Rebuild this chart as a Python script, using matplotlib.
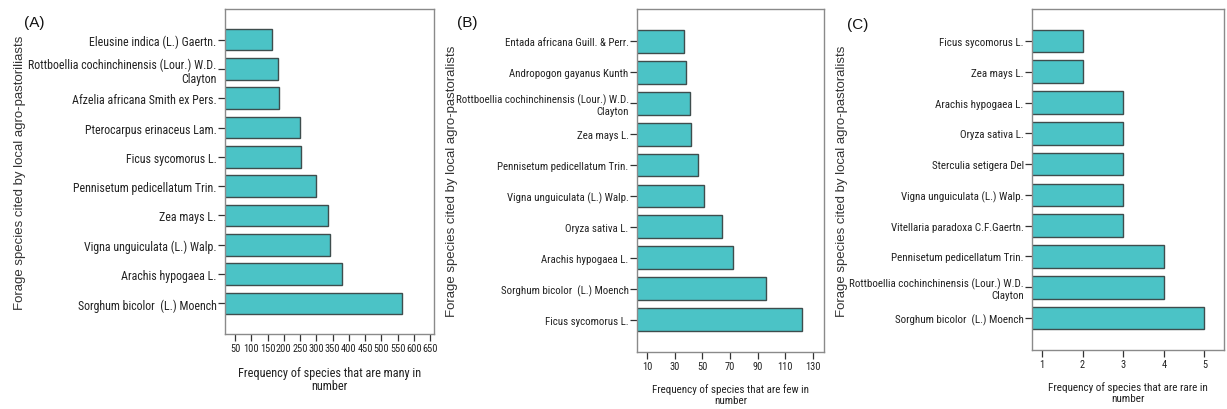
import matplotlib
matplotlib.use("Agg")
import matplotlib.pyplot as plt

# Panel A: species that are many in number
species_a = ["Eleusine indica (L.) Gaertn.",
             "Rottboellia cochinchinensis (Lour.) W.D.\nClayton",
             "Afzelia africana Smith ex Pers.",
             "Pterocarpus erinaceus Lam.",
             "Ficus sycomorus L.",
             "Pennisetum pedicellatum Trin.",
             "Zea mays L.",
             "Vigna unguiculata (L.) Walp.",
             "Arachis hypogaea L.",
             "Sorghum bicolor  (L.) Moench"]
freq_a = [165, 183, 184, 249, 253, 300, 337, 343, 380, 563]
ticks_a = [50, 100, 150, 200, 250, 300, 350, 400, 450, 500, 550, 600, 650]

# Panel B: species that are few in number
species_b = ["Entada africana Guill. & Perr.",
             "Andropogon gayanus Kunth",
             "Rottboellia cochinchinensis (Lour.) W.D.\nClayton",
             "Zea mays L.",
             "Pennisetum pedicellatum Trin.",
             "Vigna unguiculata (L.) Walp.",
             "Oryza sativa L.",
             "Arachis hypogaea L.",
             "Sorghum bicolor  (L.) Moench",
             "Ficus sycomorus L."]
freq_b = [37, 38, 41, 42, 47, 51, 64, 72, 96, 122]
ticks_b = [10, 30, 50, 70, 90, 110, 130]

# Panel C: species that are rare in number
species_c = ["Ficus sycomorus L.",
             "Zea mays L.",
             "Arachis hypogaea L.",
             "Oryza sativa L.",
             "Sterculia setigera Del",
             "Vigna unguiculata (L.) Walp.",
             "Vitellaria paradoxa C.F.Gaertn.",
             "Pennisetum pedicellatum Trin.",
             "Rottboellia cochinchinensis (Lour.) W.D.\nClayton",
             "Sorghum bicolor  (L.) Moench"]
freq_c = [2, 2, 3, 3, 3, 3, 3, 4, 4, 5]
ticks_c = [1, 2, 3, 4, 5]

narrow = ["Roboto Condensed", "Liberation Sans Narrow", "Liberation Sans", "DejaVu Sans"]
regular = ["Liberation Sans", "DejaVu Sans"]
bar_color = "#4BC3C6"

W, H = 1227, 410
fig = plt.figure(figsize=(W / 100, H / 100), dpi=100)


def box(l, r, t, b):
    return [l / W, (H - b) / H, (r - l) / W, (b - t) / H]


# tag, names, values, ticks, xlim, axes box, xlabel, ylabel, ylabel pos,
# tag pos, label font size, xlabel font size
panels = [
    ("(A)", species_a, freq_a, ticks_a, (19, 662), box(225, 434, 10, 335),
     "Frequency of species that are many in\nnumber",
     "Forage species cited by local agro-pastoriliasts", (20, 173), (34, 23),
     8.6, 8.8),
    ("(B)", species_b, freq_b, ticks_b, (2.8, 138), box(637, 824, 10, 353),
     "Frequency of species that are few in\nnumber",
     "Forage species cited by local agro-pastoralists", (452, 181), (467, 23),
     7.8, 7.9),
    ("(C)", species_c, freq_c, ticks_c, (0.754, 5.48), box(1032, 1224, 10, 351),
     "Frequency of species that are rare in\nnumber",
     "Forage species cited by local agro-pastoralists", (842, 181), (858, 25),
     7.9, 8.0),
]

for tag, names, vals, ticks, xlim, rect, xlab, ylab, ypos, tpos, fs, xfs in panels:
    ax = fig.add_axes(rect)
    y = list(range(len(names)))
    ax.barh(y, vals, height=0.74, left=0, color=bar_color,
            edgecolor="#3e4d4d", linewidth=1.0)
    ax.set_xlim(*xlim)
    ax.set_ylim(len(names) - 1 + 1.04, -1.04)
    ax.set_yticks(y)
    ax.set_yticklabels(names, fontfamily=narrow, fontsize=fs, color="#222222",
                       ha="right", linespacing=1.15)
    ax.set_xticks(ticks)
    ax.set_xticklabels([str(t) for t in ticks], fontfamily=narrow,
                       fontsize=7.5, color="#222222")
    ax.tick_params(axis="y", length=5, width=0.9, color="#333333", pad=1)
    ax.tick_params(axis="x", length=5, width=0.9, color="#333333", pad=1.5)
    for s in ax.spines.values():
        s.set_color("#8a8a8a")
        s.set_linewidth(1.0)
    ax.set_xlabel(xlab, fontfamily=narrow, fontsize=xfs, color="#222222",
                  labelpad=9, linespacing=1.05)
    fig.text(ypos[0] / W, (H - ypos[1]) / H, ylab, rotation=90,
             ha="center", va="center", fontfamily=regular, fontsize=9.5,
             color="#333333")
    fig.text(tpos[0] / W, (H - tpos[1]) / H, tag, ha="center", va="center",
             fontfamily=regular, fontsize=11, color="#111111")

fig.savefig("out.png", dpi=100)
